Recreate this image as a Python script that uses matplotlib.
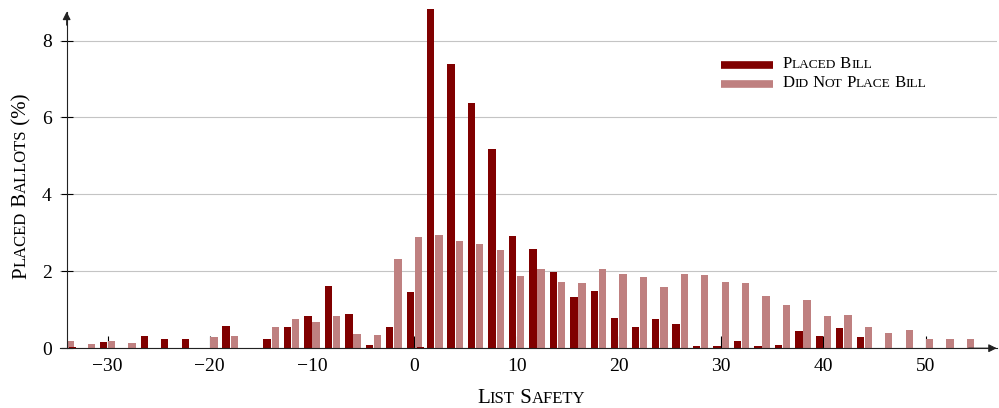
import numpy as np
import matplotlib
matplotlib.use("Agg")
import matplotlib.pyplot as plt
import matplotlib.transforms as mtrans
from matplotlib.lines import Line2D

plt.rcParams['font.family'] = 'serif'
plt.rcParams['font.serif'] = ['Liberation Serif', 'DejaVu Serif']

# list safety bins (centre of each pair of bars)
safety = np.arange(-34, 55, 2)

# share of placed ballots (%) per bin
placed_bill = [0.00, 0.00, 0.16, 0.00, 0.31, 0.23, 0.23, 0.00, 0.59, 0.00,
               0.23, 0.54, 0.83, 1.61, 0.88, 0.08, 0.55, 1.45, 8.83, 7.38,
               6.38, 5.17, 2.91, 2.57, 1.98, 1.32, 1.48, 0.78, 0.54, 0.76,
               0.62, 0.05, 0.07, 0.20, 0.05, 0.09, 0.46, 0.31, 0.52, 0.29,
               0.00, 0.00, 0.00, 0.00, 0.00]
no_bill = [0.18, 0.10, 0.18, 0.13, 0.00, 0.00, 0.00, 0.30, 0.33, 0.00,
           0.54, 0.75, 0.69, 0.85, 0.36, 0.34, 2.32, 2.90, 2.94, 2.79,
           2.72, 2.56, 1.87, 2.06, 1.72, 1.69, 2.07, 1.94, 1.85, 1.60,
           1.92, 1.90, 1.73, 1.69, 1.37, 1.13, 1.25, 0.83, 0.86, 0.55,
           0.40, 0.47, 0.23, 0.23, 0.23]

# two odd-valued placed entries that sit on top of the other series
placed_odd_x = [-33, 1]
placed_odd = [0.04, 0.04]

dark = '#800000'
light = '#bf8080'

W, H = 999, 408
ident = mtrans.IdentityTransform()


def sc_pieces(text, size, ratio) :
    pieces = []
    for ch in text :
        if ch.islower() :
            s, sz = ch.upper(), size * ratio
        else :
            s, sz = ch, size
        if pieces and pieces[-1][1] == sz :
            pieces[-1][0] += s
        else :
            pieces.append([s, sz])
    return pieces


def small_caps(fig, x, y, text, size, ratio = 0.8, rotation = 0, ha = 'center') :
    # fake small caps: lower case letters as smaller capitals
    renderer = fig.canvas.get_renderer()
    pieces = sc_pieces(text, size, ratio)
    widths = []
    for s, sz in pieces :
        t = fig.text(0, 0, s, fontsize = sz, transform = ident)
        widths.append(t.get_window_extent(renderer).width)
        t.remove()
    total = sum(widths)
    pos = -total / 2 if ha == 'center' else 0
    for (s, sz), w in zip(pieces, widths) :
        if rotation == 90 :
            px, py = x, y + pos
        else :
            px, py = x + pos, y
        fig.text(px, py, s, fontsize = sz, rotation = rotation, rotation_mode = 'anchor',
                 ha = 'left', va = 'baseline', transform = ident, color = 'black')
        pos += w


fig = plt.figure(figsize = (W / 100, H / 100), dpi = 100)
ax = fig.add_axes([60 / W, (H - 348.2) / H, (996.7 - 60) / W, (348.2 - 11.7) / H])

ax.bar(safety - 0.4, placed_bill, width = 0.72, color = dark, lw = 0, zorder = 2, clip_on = False)
ax.bar(safety + 0.4, no_bill, width = 0.72, color = light, lw = 0, zorder = 2, clip_on = False)
ax.bar(np.array(placed_odd_x) - 0.4, placed_odd, width = 0.72, color = dark, lw = 0, zorder = 3)

ax.set_xlim(-34.65, 56.95)
ax.set_ylim(0, 8.75)

ax.set_axisbelow(True)
ax.yaxis.grid(True, color = '#c4c4c4', lw = 0.8)

for side in ['top', 'right'] :
    ax.spines[side].set_visible(False)
ax.spines['left'].set_position(('data', -34))
for side in ['left', 'bottom'] :
    ax.spines[side].set_linewidth(0.8)
    ax.spines[side].set_color('#222222')

ax.set_xticks(np.arange(-30, 51, 10))
ax.set_yticks([0, 2, 4, 6, 8])
ax.tick_params(axis = 'x', direction = 'in', length = 8.6, width = 0.8, pad = 7, labelsize = 14)
ax.tick_params(axis = 'y', direction = 'inout', length = 8.4, width = 0.8, pad = 6.6, labelsize = 14)

# axis arrows
arr = dict(arrowstyle = '-|>', color = '#222222', lw = 0.8, mutation_scale = 12,
           shrinkA = 0, shrinkB = 0)
ax.annotate('', xy = (1, 0), xytext = (0.97, 0), xycoords = 'axes fraction',
            arrowprops = arr, annotation_clip = False)
ax.annotate('', xy = (-34, 8.75), xytext = (-34, 8.4), xycoords = 'data',
            arrowprops = arr, annotation_clip = False)

# labels
small_caps(fig, 531, 4.7, "List Safety", 15)
small_caps(fig, 26, 222, "Placed Ballots (%)", 15, rotation = 90)

# legend
for yy, col, lab in [(343.2, dark, "Placed Bill"), (324.2, light, "Did Not Place Bill")] :
    fig.add_artist(Line2D([720.7, 772.7], [yy, yy], transform = ident, color = col, lw = 5.5,
                          solid_capstyle = 'butt'))
    small_caps(fig, 782.7, yy - 3.5, lab, 12, ha = 'left')

fig.savefig("out.png", dpi = 100)
